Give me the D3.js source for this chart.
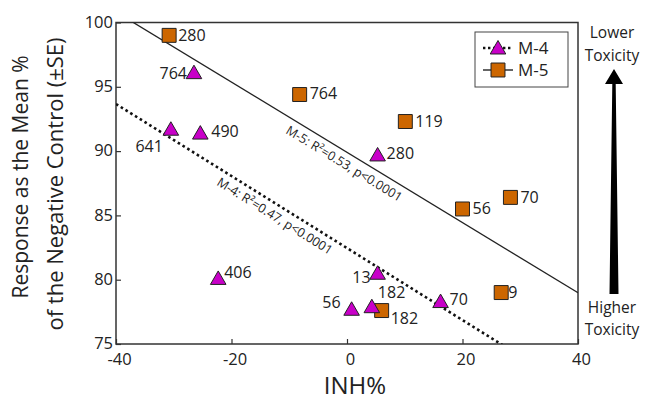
<!DOCTYPE html>
<html>
<head>
<meta charset="utf-8">
<script src="https://cdn.jsdelivr.net/npm/d3@7"></script>
<style>
  body { margin: 0; background: #fff; }
  svg { font-family: "Open Sans", "Noto Sans", sans-serif; }
</style>
</head>
<body>
<div id="chart"></div>
<script>
// data
const m4Labels = ['764', '641', '490', '280', '406', '13', '56', '182', '70'];
const m4X = [-26.5, -30.5, -25.4, 5.3, -22.3, 5.3, 0.8, 4.3, 16.2];
const m4Y = [96.1, 91.7, 91.4, 89.7, 80.1, 80.5, 77.7, 77.9, 78.3];

const m5Labels = ['280', '764', '119', '56', '70', '9', '182'];
const m5X = [-30.8, -8.2, 10.1, 20.0, 28.3, 26.7, 6.0];
const m5Y = [99.0, 94.4, 92.3, 85.5, 86.4, 79.0, 77.6];

// regression fits: [intercept, slope]
const m4Fit = [82.46, -0.280];
const m5Fit = [89.9, -0.273];
const m4Stat = 'M-4: R\u00b2=0.47, p<0.0001';
const m5Stat = 'M-5: R\u00b2=0.53, p<0.0001';

const xTicks = [-40, -20, 0, 20, 40];
const yTicks = [75, 80, 85, 90, 95, 100];

// label placement (layout only): [dx, dy, anchor]
const m4LabelPos = [[-7, 1, 'end'], [-8, 17, 'end'], [11, -2, 'start'], [9, -2, 'start'],
  [6, -6, 'start'], [-7, 4, 'end'], [-11, -7, 'end'], [6, -14, 'start'], [9, -2, 'start']];
const m5LabelPos = [[9, 0, 'start'], [10, -1, 'start'], [10, 0, 'start'], [10, -1, 'start'],
  [10, 0, 'start'], [7, 0, 'start'], [9, 8, 'start']];

const W = 646, H = 401;
const TRI_COLOR = '#c800c8';
const SQ_COLOR = '#cc6600';

const svg = d3.select('#chart').append('svg')
  .attr('width', W)
  .attr('height', H);

const x = d3.scaleLinear().domain([-40, 40]).range([116, 578]);
const y = d3.scaleLinear().domain([75, 100]).range([344, 22.5]);

// clip for the fit lines
svg.append('clipPath').attr('id', 'plotclip')
  .append('rect')
  .attr('x', x(-40)).attr('y', y(100))
  .attr('width', x(40) - x(-40)).attr('height', y(75) - y(100));

// axes, ticks pointing inwards
const xAxis = svg.append('g')
  .attr('transform', `translate(0, ${y(75)})`)
  .call(d3.axisBottom(x).tickValues(xTicks).tickFormat(d => String(d))
    .tickSizeInner(-5).tickSizeOuter(0).tickPadding(9));
const yAxis = svg.append('g')
  .attr('transform', `translate(${x(-40)}, 0)`)
  .call(d3.axisLeft(y).tickValues(yTicks).tickSizeInner(-5).tickSizeOuter(0).tickPadding(3));

[xAxis, yAxis].forEach(g => {
  g.select('.domain').remove();
  g.selectAll('line').attr('stroke', '#333').attr('stroke-width', 1.2);
  g.selectAll('text').style('font-size', '16.5px').attr('fill', '#222')
    .style('font-family', '"Open Sans", sans-serif');
});
xAxis.selectAll('text').attr('dx', 3);
yAxis.selectAll('text').attr('dy', '0.28em');

// frame
svg.append('rect')
  .attr('x', x(-40)).attr('y', y(100))
  .attr('width', x(40) - x(-40)).attr('height', y(75) - y(100))
  .attr('fill', 'none')
  .attr('stroke', '#333')
  .attr('stroke-width', 1.5);

// fit lines
function fitLine(fit) {
  return [[-40, fit[0] + fit[1] * -40], [40, fit[0] + fit[1] * 40]];
}
const line = d3.line().x(d => x(d[0])).y(d => y(d[1]));

svg.append('path')
  .attr('d', line(fitLine(m5Fit)))
  .attr('clip-path', 'url(#plotclip)')
  .attr('fill', 'none')
  .attr('stroke', '#222')
  .attr('stroke-width', 1.3);

svg.append('path')
  .attr('d', line(fitLine(m4Fit)))
  .attr('clip-path', 'url(#plotclip)')
  .attr('fill', 'none')
  .attr('stroke', '#111')
  .attr('stroke-width', 2.6)
  .attr('stroke-dasharray', '2.6 3');

// stat text along the lines
function statLabel(fit, atX, off, txt) {
  const x0 = x(atX), y0 = y(fit[0] + fit[1] * atX);
  const x1 = x(atX + 10), y1 = y(fit[0] + fit[1] * (atX + 10));
  const ang = Math.atan2(y1 - y0, x1 - x0);
  const px = x0 - Math.sin(ang) * off, py = y0 + Math.cos(ang) * off;
  svg.append('text')
    .attr('transform', `translate(${px}, ${py}) rotate(${ang * 180 / Math.PI})`)
    .attr('text-anchor', 'middle')
    .attr('dy', '0.35em')
    .style('font-size', '12.5px')
    .attr('fill', '#222')
    .text(txt);
}
statLabel(m5Fit, 0.5, 11, m5Stat);
statLabel(m4Fit, -11.5, 11, m4Stat);

// markers
const tri = d3.symbol().type(d3.symbolTriangle).size(105);
const sq = d3.symbol().type(d3.symbolSquare).size(195);

function drawSeries(xs, ys, labels, pos, sym, color, yShift) {
  const g = svg.append('g');
  g.selectAll('path')
    .data(xs)
    .join('path')
    .attr('transform', (d, i) => `translate(${x(d)}, ${y(ys[i]) + yShift})`)
    .attr('d', sym)
    .attr('fill', color)
    .attr('stroke', '#222')
    .attr('stroke-width', 1);
  g.selectAll('text')
    .data(xs)
    .join('text')
    .attr('x', (d, i) => x(d) + pos[i][0])
    .attr('y', (d, i) => y(ys[i]) + pos[i][1])
    .attr('dy', '0.35em')
    .attr('text-anchor', (d, i) => pos[i][2])
    .style('font-size', '16px')
    .attr('fill', '#222')
    .text((d, i) => labels[i]);
}
drawSeries(m5X, m5Y, m5Labels, m5LabelPos, sq, SQ_COLOR, 0);
drawSeries(m4X, m4Y, m4Labels, m4LabelPos, tri, TRI_COLOR, 1.5);

// legend
const lg = svg.append('g');
lg.append('rect')
  .attr('x', 475).attr('y', 32).attr('width', 93).attr('height', 55)
  .attr('fill', '#fff').attr('stroke', '#444').attr('stroke-width', 1);
const legendItems = [
  { name: 'M-4', sym: tri, color: TRI_COLOR, dash: '2.4 2.6', w: 2.4, ys: 1.5 },
  { name: 'M-5', sym: sq, color: SQ_COLOR, dash: null, w: 1.3, ys: 0 }
];
legendItems.forEach((d, i) => {
  const cy = 48 + i * 22;
  lg.append('line')
    .attr('x1', 483).attr('x2', 513).attr('y1', cy).attr('y2', cy)
    .attr('stroke', '#111').attr('stroke-width', d.w)
    .attr('stroke-dasharray', d.dash);
  lg.append('path')
    .attr('transform', `translate(498, ${cy + d.ys})`)
    .attr('d', d.sym)
    .attr('fill', d.color).attr('stroke', '#222').attr('stroke-width', 1);
  lg.append('text')
    .attr('x', 518).attr('y', cy).attr('dy', '0.35em')
    .style('font-size', '17px').attr('fill', '#222')
    .text(d.name);
});

// axis titles
svg.append('text')
  .attr('x', 355).attr('y', 394)
  .attr('text-anchor', 'middle')
  .style('font-size', '24px').attr('fill', '#222')
  .text('INH%');

const yt = svg.append('text')
  .attr('transform', 'translate(28, 0) rotate(-90)')
  .attr('text-anchor', 'middle')
  .attr('fill', '#222');
yt.append('tspan').attr('x', -177).attr('y', 0)
  .style('font-size', '21px')
  .text('Response as the Mean %');
yt.append('tspan').attr('x', -184).attr('y', 35)
  .style('font-size', '22px')
  .text('of the Negative Control (\u00b1SE)');

// toxicity arrow on the right
const ax = 614;
svg.append('path')
  .attr('d', d3.line()([[ax, 69], [ax + 9, 84], [ax + 1.7, 84], [ax + 4.5, 294], [ax - 4.5, 294], [ax - 1.7, 84], [ax - 9, 84]]) + 'Z')
  .attr('fill', '#000');

const toxText = [['Lower', 33], ['Toxicity', 56], ['Higher', 308], ['Toxicity', 330]];
toxText.forEach(t => {
  svg.append('text')
    .attr('x', 612).attr('y', t[1]).attr('dy', '0.35em')
    .attr('text-anchor', 'middle')
    .style('font-size', '15.5px').attr('fill', '#222')
    .text(t[0]);
});
</script>
</body>
</html>
